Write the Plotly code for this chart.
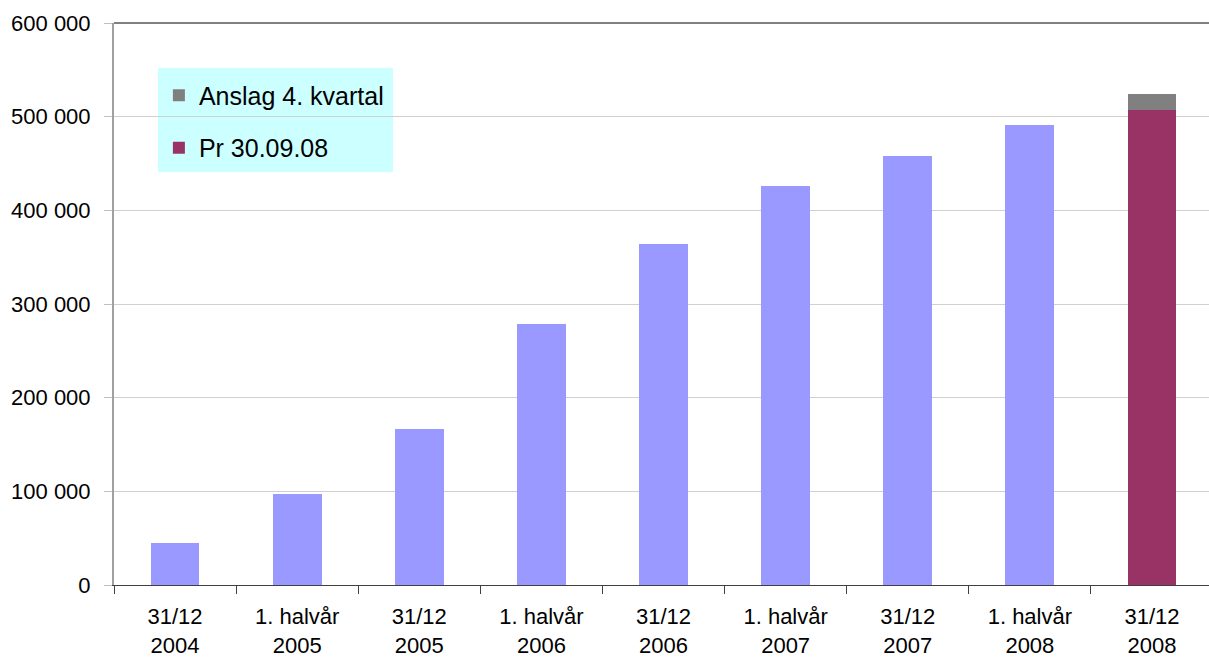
import plotly.graph_objects as go

categories = ["31/12<br>2004", "1. halvår<br>2005", "31/12<br>2005", "1. halvår<br>2006",
              "31/12<br>2006", "1. halvår<br>2007", "31/12<br>2007", "1. halvår<br>2008",
              "31/12<br>2008"]
main_values = [45000, 97000, 166500, 278500, 364000, 426000, 458000, 491000, None]
pr_values = [None, None, None, None, None, None, None, None, 507000]
anslag_values = [None, None, None, None, None, None, None, None, 17000]
y_ticks = [0, 100000, 200000, 300000, 400000, 500000, 600000]
y_tick_labels = ["0", "100 000", "200 000", "300 000", "400 000", "500 000", "600 000"]

FONT = "Liberation Sans, Arial, sans-serif"

fig = go.Figure()
fig.add_trace(go.Bar(x=categories, y=main_values, marker_color="#9999FF",
                     marker_line_width=0, showlegend=False, width=0.4))
fig.add_trace(go.Bar(x=categories, y=pr_values, name="Pr 30.09.08", marker_color="#993366",
                     marker_line_width=0, width=0.4, legendgroup="b", legendrank=2))
fig.add_trace(go.Bar(x=categories, y=anslag_values, name="Anslag 4. kvartal",
                     marker_color="#808080", marker_line_width=0, width=0.4,
                     legendgroup="a", legendrank=1))

fig.update_layout(
    width=1209, height=658,
    margin=dict(l=114, r=0, t=23, b=73),
    barmode="stack",
    plot_bgcolor="white", paper_bgcolor="white",
    font=dict(family=FONT, size=22, color="black"),
    legend=dict(x=0.041, y=0.912, xanchor="left", yanchor="top",
                bgcolor="rgba(0,0,0,0)", font=dict(size=25, family=FONT),
                traceorder="grouped", tracegroupgap=17, itemwidth=30),
    shapes=[
        dict(type="rect", xref="paper", yref="paper",
             x0=(158 - 114) / 1095, x1=(393 - 114) / 1095,
             y0=(585 - 172) / 562, y1=(585 - 68) / 562,
             fillcolor="#CCFFFF", line_width=0, layer="below"),
        dict(type="line", xref="paper", yref="paper", x0=0, x1=1, y0=1, y1=1,
             line=dict(color="#808080", width=2)),
    ],
)
fig.update_xaxes(
    type="category", range=[-0.5, 8.467], automargin=False,
    showline=True, linecolor="#404040", linewidth=1,
    ticks="outside", tickson="boundaries", ticklen=8, tickcolor="#404040",
    showgrid=False, tickfont=dict(size=22, family=FONT), ticklabelstandoff=12,
)
fig.update_yaxes(
    range=[0, 600000], tickvals=y_ticks, ticktext=y_tick_labels, automargin=False,
    showline=True, linecolor="#A0A0A0", linewidth=2,
    showgrid=True, gridcolor="#D0D0D0", gridwidth=1,
    ticks="outside", ticklen=8, tickcolor="#C0C0C0", ticklabelstandoff=9,
    tickfont=dict(size=22, family=FONT), zeroline=False,
)
fig.write_html(
    "out.html",
    config={"displayModeBar": False},
    post_script="document.body.style.margin='0';document.body.style.overflow='hidden';",
)
